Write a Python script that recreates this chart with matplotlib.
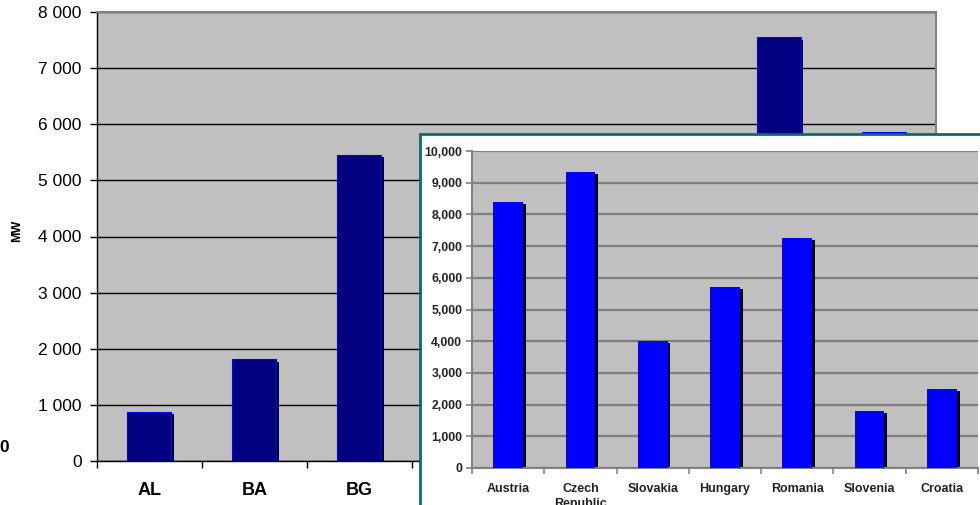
import matplotlib
matplotlib.use('Agg')
import matplotlib.pyplot as plt
from matplotlib.patches import Rectangle

plt.rcParams['font.family'] = ['Liberation Sans', 'DejaVu Sans']

# background chart (regional capacity, MW)
cats_back = ['AL', 'BA', 'BG', 'HR', 'MK', 'ME', 'RO', 'RS']
vals_back = [870, 1810, 5460, 4000, 1500, 900, 7550, 5860]
yticks_back = [0, 1000, 2000, 3000, 4000, 5000, 6000, 7000, 8000]
ylabels_back = ['0', '1 000', '2 000', '3 000', '4 000', '5 000', '6 000', '7 000', '8 000']

# inset chart
cats_in = ['Austria', 'Czech\nRepublic', 'Slovakia', 'Hungary', 'Romania', 'Slovenia', 'Croatia']
vals_in = [8400, 9350, 4000, 5700, 7250, 1800, 2500]
yticks_in = [0, 1000, 2000, 3000, 4000, 5000, 6000, 7000, 8000, 9000, 10000]
ylabels_in = ['0', '1,000', '2,000', '3,000', '4,000', '5,000', '6,000', '7,000', '8,000', '9,000', '10,000']

W, H = 980, 505
fig = plt.figure(figsize=(W / 100, H / 100), dpi=100)
fig.patch.set_facecolor('white')

def fx(px):
    return px / W

def fy(px):
    return 1 - px / H

# ---- background chart ----
ax = fig.add_axes([fx(97), fy(461), (936 - 97) / W, (461 - 12) / H])
ax.set_facecolor('#c0c0c0')
xs = range(len(cats_back))
bw = 0.42
# shadow
ax.bar([x + 0.025 for x in xs], [v - 40 for v in vals_back], width=bw, color='black', zorder=2)
ax.bar(xs, vals_back, width=bw, color='#000080', edgecolor='#0000ff', linewidth=0.8, zorder=3)
ax.set_xlim(-0.5, len(cats_back) - 0.5)
ax.set_ylim(0, 8000)
ax.set_yticks(yticks_back)
ax.set_yticklabels(ylabels_back, fontsize=12.5)
ax.set_xticks([x + 0.5 for x in range(-1, len(cats_back))], minor=False)
ax.set_xticklabels([])
ax.set_xticks(list(xs), minor=True)
# labels past BG sit under the inset, so they are left blank
ax.set_xticklabels(cats_back[:3] + [''] * (len(cats_back) - 3), minor=True,
                   fontsize=13, fontweight='bold')
ax.tick_params(axis='x', which='minor', length=0, pad=15)
ax.tick_params(axis='x', which='major', length=5, width=1, color='black')
ax.tick_params(axis='y', length=5, width=1, pad=6, color='black')
ax.yaxis.grid(True, color='black', linewidth=1, zorder=1)
ax.set_axisbelow(True)
for s in ['top', 'right']:
    ax.spines[s].set_color('#808080')
    ax.spines[s].set_linewidth(1.5)
for s in ['left', 'bottom']:
    ax.spines[s].set_color('black')
    ax.spines[s].set_linewidth(1)

fig.text(fx(17), fy(231), 'MW', rotation=90, fontsize=9, fontweight='bold',
         ha='center', va='center')
fig.text(fx(4), fy(447), '0', fontsize=12.5, fontweight='bold', ha='center', va='center')

# ---- inset frame ----
frame = Rectangle((fx(420), fy(515)), (990 - 420) / W, (515 - 134) / H,
                  transform=fig.transFigure, facecolor='white', edgecolor='#00706a',
                  linewidth=2, zorder=5)
fig.patches.append(frame)

# ---- inset chart ----
ax2 = fig.add_axes([fx(472), fy(468), (978 - 472) / W, (468 - 151) / H], zorder=10)
ax2.set_facecolor('#c0c0c0')
xs2 = range(len(cats_in))
ax2.bar([x + 0.04 for x in xs2], [v - 60 for v in vals_in], width=0.41, color='black', zorder=2)
ax2.bar(xs2, vals_in, width=0.41, color='#0000ff', zorder=3)
ax2.set_xlim(-0.5, len(cats_in) - 0.5)
ax2.set_ylim(0, 10000)
ax2.set_yticks(yticks_in)
ax2.set_yticklabels(ylabels_in, fontsize=8.8, fontweight='bold')
ax2.set_xticks([x + 0.5 for x in range(-1, len(cats_in))])
ax2.set_xticklabels([])
ax2.set_xticks(list(xs2), minor=True)
ax2.set_xticklabels(cats_in, minor=True, fontsize=9, fontweight='bold', color='#222222',
                    linespacing=1.25)
ax2.tick_params(axis='x', which='minor', length=0, pad=11)
ax2.tick_params(axis='x', which='major', length=4, width=1.2, color='#808080')
ax2.tick_params(axis='y', length=4, width=1.2, pad=3, color='#808080', labelcolor='#222222')
ax2.yaxis.grid(True, color='#808080', linewidth=1.6, zorder=1)
ax2.set_axisbelow(True)
for s in ['top', 'right']:
    ax2.spines[s].set_visible(False)
for s in ['left', 'bottom']:
    ax2.spines[s].set_color('#808080')
    ax2.spines[s].set_linewidth(1.5)

fig.savefig('out.png', dpi=100)
